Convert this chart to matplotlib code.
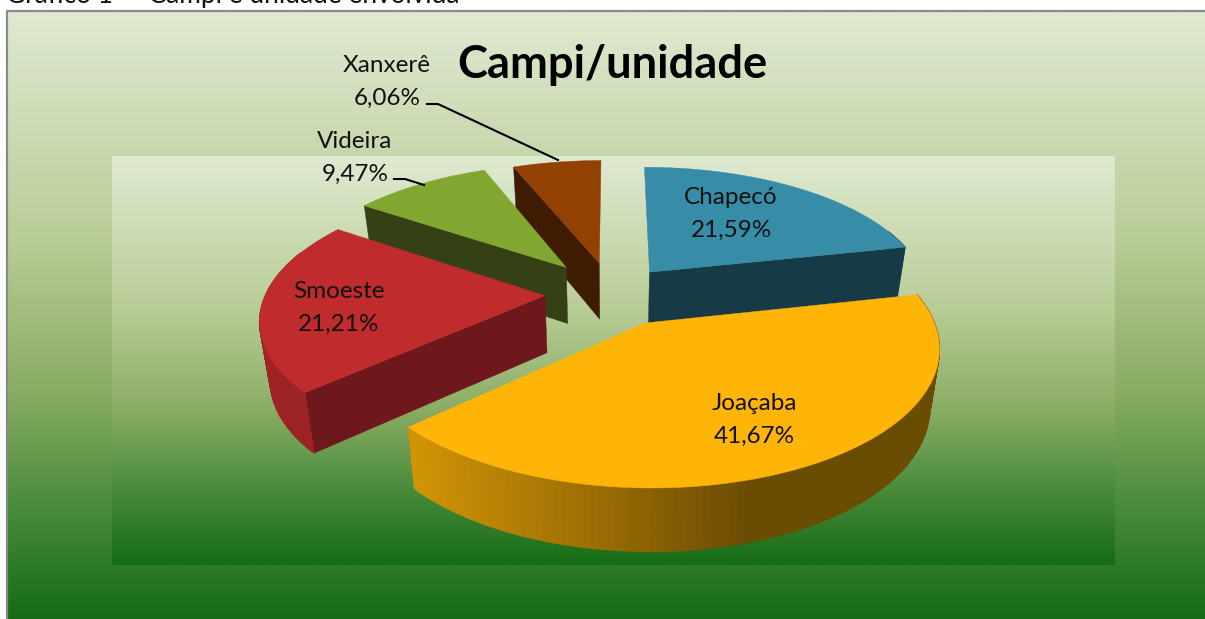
import numpy as np
import matplotlib
matplotlib.use("Agg")
import matplotlib.pyplot as plt
from matplotlib.colors import LinearSegmentedColormap, to_rgb
from matplotlib.patches import Polygon

plt.rcParams['font.family'] = ['Lato', 'DejaVu Sans']

campi = ["Chapecó", "Joaçaba", "Smoeste", "Videira", "Xanxerê"]
shares = [21.59, 41.67, 21.21, 9.47, 6.06]
share_labels = ["21,59%", "41,67%", "21,21%", "9,47%", "6,06%"]
top_colors = ["#378DA8", "#FFB408", "#C02B2D", "#82A731", "#934003"]
wall_colors = ["#173A47", "#6A4B02", "#6E171C", "#354115", "#3E1B01"]
explode = [0.22, 0.25, 0.24, 0.27, 0.25]
draw_order = [4, 3, 0, 2, 1]
label_xy = [(731, 212), (754, 418), (339, 306), (355, 156), (387, 80)]

X0, Y0, A, B, K, D, SHRINK = 612, 293.5, 279, 128, 0.16, 57, 0.97
W, H = 1205, 619

fig = plt.figure(figsize=(W / 100, H / 100), dpi=100, facecolor="white")
ax = fig.add_axes([0, 0, 1, 1])
ax.set_xlim(0, W)
ax.set_ylim(H, 0)
ax.axis("off")

grad = LinearSegmentedColormap.from_list(
    "bg", [(0, "#DFE9D1"), (0.37, "#B9CD97"), (0.62, "#8BAD64"), (0.8, "#4E8E3F"), (1, "#156C14")])
ramp = np.linspace(0, 1, 256)[:, None]
ax.imshow(ramp, cmap=grad, extent=(8, W, H, 12), aspect="auto", zorder=1)
ax.imshow(ramp, cmap=grad, extent=(112, 1115, 565, 156), aspect="auto", zorder=2)
ax.set_xlim(0, W)
ax.set_ylim(H, 0)
ax.plot([7, 7, W], [H, 11, 11], color="#8A8A8A", lw=1.6, zorder=3, solid_capstyle="butt")


def top(u, v):
    w = 1 + K * v
    return X0 + A * u / w, Y0 - B * v / w


def bottom(u, v):
    x, y = top(u, v)
    return X0 + (x - X0) * SHRINK, y + D / np.sqrt(1 + K * v)


z = 10
fractions = np.array(shares) / sum(shares)
edges = np.concatenate([[0], np.cumsum(fractions)]) * 2 * np.pi
for i in draw_order:
    a0, a1 = edges[i], edges[i + 1]
    mid = (a0 + a1) / 2
    cu, cv = explode[i] * np.sin(mid), explode[i] * np.cos(mid)
    th = np.linspace(a0, a1, 121)
    us, vs = cu + np.sin(th), cv + np.cos(th)
    apex = top(cu, cv)
    arc_mid = top(cu + np.sin(mid), cv + np.cos(mid))
    # radial walls: only those whose face turns towards the viewer
    for a in (a0, a1):
        e = (cu + np.sin(a), cv + np.cos(a))
        ex, ey = top(*e)
        if abs(ex - apex[0]) < 20:
            continue
        edge_y = apex[1] + (ey - apex[1]) * (arc_mid[0] - apex[0]) / (ex - apex[0])
        if arc_mid[1] > edge_y:
            continue
        ax.add_patch(Polygon([apex, (ex, ey), bottom(*e), bottom(cu, cv)],
                             fc=wall_colors[i], ec=wall_colors[i], lw=0.3, zorder=z))
        z += 1
    # outer wall with horizontal shading
    base = np.array(to_rgb(top_colors[i]))
    for j in range(len(th) - 1):
        p, q = (us[j], vs[j]), (us[j + 1], vs[j + 1])
        if (p[1] + q[1]) / 2 - cv > 0.35:
            continue
        xm = (top(*p)[0] + top(*q)[0]) / 2
        t = np.clip((xm - 415) / (750 - 415), 0, 1)
        col = base * (0.82 - 0.40 * t)
        ax.add_patch(Polygon([top(*p), top(*q), bottom(*q), bottom(*p)],
                             fc=col, ec=col, lw=0.8, zorder=z))
        z += 1
    # top face
    arc = [top(u, v) for u, v in zip(us, vs)]
    ax.add_patch(Polygon([apex] + arc, fc=top_colors[i], ec=top_colors[i], lw=0.3, zorder=z))
    z += 1

zt = z + 10
for name, pct, (lx, ly) in zip(campi, share_labels, label_xy):
    ax.text(lx, ly - 14, name, ha="center", va="center", fontsize=17.5, color="#111111", zorder=zt)
    ax.text(lx, ly + 18, pct, ha="center", va="center", fontsize=17.5, color="#111111", zorder=zt)

ax.plot([427, 438, 558], [104, 104, 160], color="black", lw=1.5, zorder=zt)
ax.plot([394, 405, 424], [179, 179, 185], color="black", lw=1.5, zorder=zt)

ax.text(612.5, 65, "Campi/unidade", ha="center", va="center", fontsize=32.7, fontweight="bold",
        color="black", zorder=zt)
ax.text(6, 3, "Gráfico 1 –  Campi e unidade envolvida", ha="left", va="baseline", fontsize=18.9,
        color="#111111", zorder=zt)

fig.savefig("out.png", dpi=100, facecolor="white")
